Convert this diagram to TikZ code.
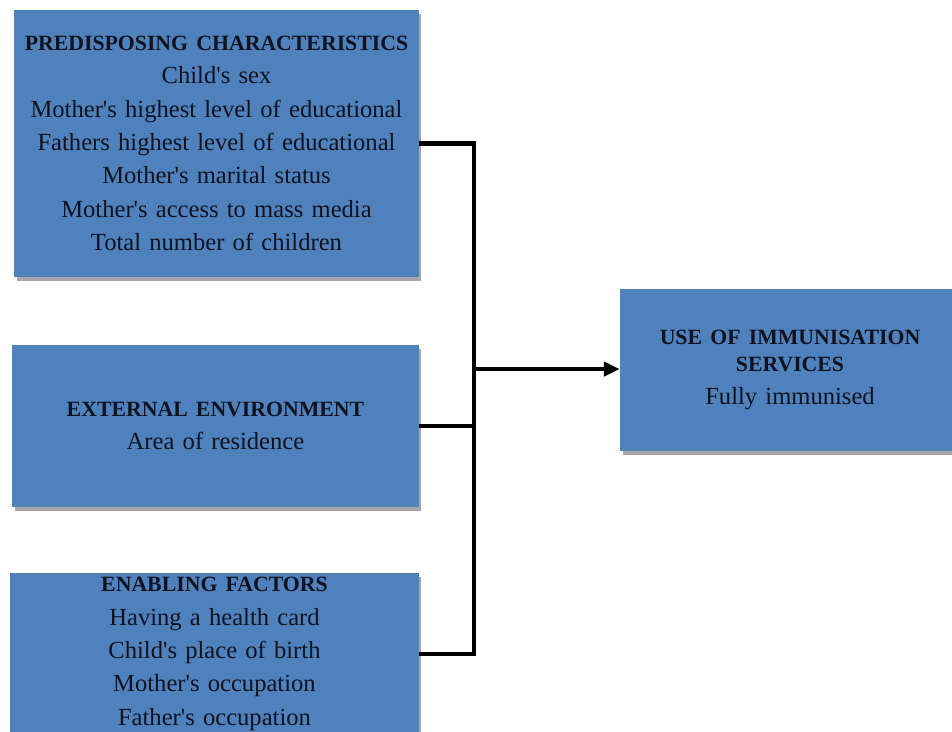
\documentclass[tikz,border=0pt]{standalone}
\usepackage{fontspec}
\setmainfont{Liberation Serif}
\usepackage{xcolor}
\usetikzlibrary{positioning,calc,shadows,arrows.meta}
\definecolor{boxblue}{HTML}{4F81BD}
\definecolor{boxtext}{HTML}{10131F}
\newcommand{\q}{\textquotesingle}
\newcommand{\heading}[1]{{\fontsize{12.4}{19}\selectfont\bfseries #1}}
\tikzset{
  factor/.style={rectangle, fill=boxblue, text=boxtext, align=center,
    inner xsep=0.1cm, inner ysep=0pt,
    font=\fontsize{14}{19}\selectfont,
    drop shadow={shadow xshift=0.05cm, shadow yshift=-0.08cm, fill=black, opacity=0.35}},
  link/.style={draw=black, line width=2.6pt}
}
\begin{document}
\begin{tikzpicture}[x=0.02cm, y=-0.02cm]
  \useasboundingbox (0,0) rectangle (952,731);
  \node [factor, text width=7.9cm, minimum height=5.34cm] (pred) at (216.5,143.5)
    {\heading{PREDISPOSING CHARACTERISTICS}\\
     Child\q s sex\\
     Mother\q s highest level of educational\\
     Fathers highest level of educational\\
     Mother\q s marital status\\
     Mother\q s access to mass media\\
     Total number of children};
  \node [factor, text width=7.94cm, minimum height=3.24cm] (ext) at (215.5,426)
    {\heading{EXTERNAL ENVIRONMENT}\\
     Area of residence};
  \node [factor, text width=7.98cm, minimum height=3.24cm] (enab) at (214.5,654)
    {\heading{ENABLING FACTORS}\\
     Having a health card\\
     Child\q s place of birth\\
     Mother\q s occupation\\
     Father\q s occupation};
  \node [factor, text width=6.6cm, minimum height=3.24cm] (use) at (790,370)
    {\heading{USE OF IMMUNISATION}\\[-4pt]
     \heading{SERVICES}\\
     Fully immunised};
  \coordinate (jn) at (474,369);
  \draw [link] (pred.east) -| (jn);
  \draw [link] (enab.east) -| (jn);
  \draw [link] (ext.east) -- (ext.east -| jn);
  \draw [link, -{Triangle[length=9pt, width=8pt]}] (jn) -- (jn -| use.west);
\end{tikzpicture}
\end{document}
